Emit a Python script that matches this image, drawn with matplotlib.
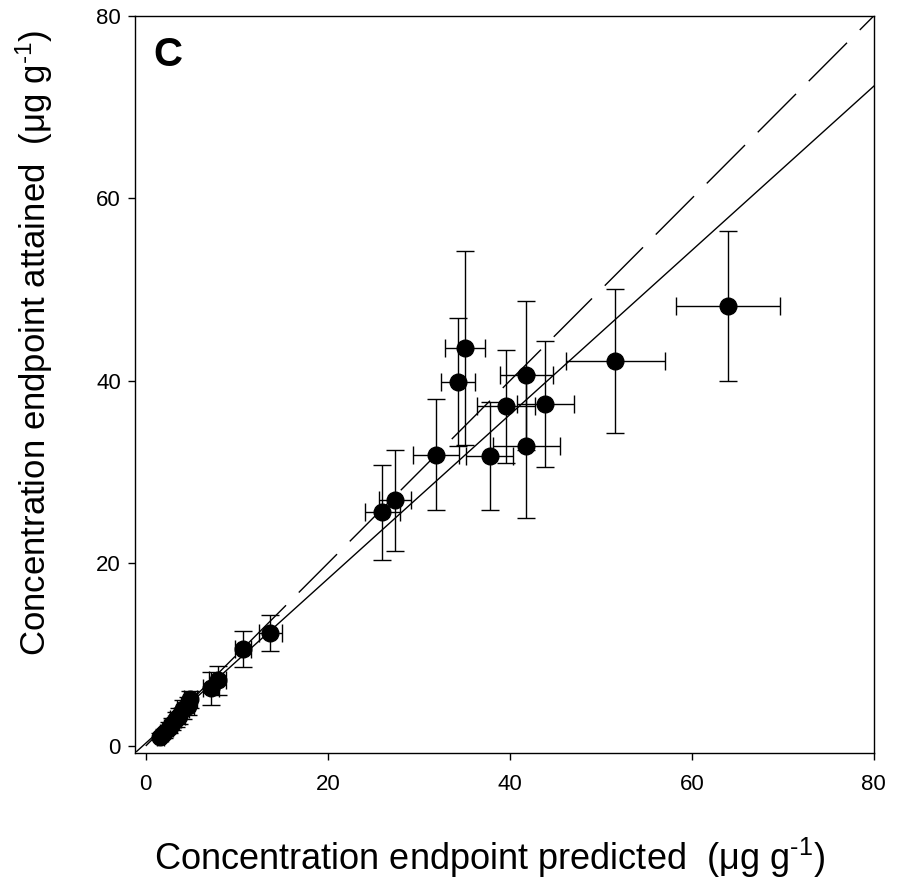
import numpy as np
import matplotlib
matplotlib.use('Agg')
import matplotlib.pyplot as plt

plt.rcParams['font.family'] = ['Liberation Sans', 'DejaVu Sans']
plt.rcParams['mathtext.fontset'] = 'custom'
plt.rcParams['mathtext.rm'] = 'Liberation Sans'
plt.rcParams['mathtext.it'] = 'Liberation Sans:italic'

# predicted endpoint (x), attained endpoint (y) and their errors
predicted = [1.6, 2.0, 2.5, 2.9, 3.3, 3.7, 4.1, 4.6, 4.9, 7.2, 7.9, 10.7, 13.7,
             26.0, 27.4, 31.9, 34.3, 35.1, 37.8, 39.6, 41.8, 41.8, 43.9, 51.6, 64.0]
attained = [1.0, 1.4, 2.0, 2.4, 2.9, 3.3, 4.0, 4.4, 5.1, 6.3, 7.2, 10.6, 12.4,
            25.6, 26.9, 31.9, 39.9, 43.6, 31.8, 37.2, 40.6, 32.9, 37.5, 42.2, 48.2]
pred_err = [0.4, 0.4, 0.5, 0.5, 0.6, 0.6, 0.7, 0.7, 0.7, 0.9, 0.9, 0.9, 1.3,
            1.9, 1.75, 2.5, 1.9, 2.2, 2.6, 3.2, 2.9, 3.7, 3.1, 5.4, 5.7]
att_err = [0.4, 0.5, 0.6, 0.7, 0.8, 0.9, 1.0, 1.0, 0.9, 1.8, 1.6, 2.0, 2.0,
           5.2, 5.5, 6.1, 7.0, 10.6, 5.9, 6.2, 8.2, 7.9, 6.9, 7.9, 8.2]

# regression line and 1:1 line
fit_slope = 0.9
fit_intercept = 0.3

fig = plt.figure(figsize=(8.99, 8.82), dpi=100)
ax = fig.add_axes([0.150, 0.146, 0.822, 0.836])

line_x = np.array([-1.0, 80.0])
ax.plot(line_x, fit_intercept + fit_slope * line_x, color='black', lw=1.0, zorder=1)
ax.plot([0, 80], [0, 80], color='black', lw=1.0, linestyle=(0, (39, 13)), zorder=1)

ax.errorbar(predicted, attained, xerr=pred_err, yerr=att_err, fmt='o',
            color='black', markersize=12, elinewidth=1.0, capsize=6.5,
            capthick=1.0, zorder=3)

ax.set_xlim(-1.2, 80)
ax.set_ylim(-0.8, 80)
ax.set_xticks([0, 20, 40, 60, 80])
ax.set_yticks([0, 20, 40, 60, 80])
ax.tick_params(direction='out', length=5, width=1, labelsize=16)
ax.tick_params(axis='x', pad=10)
ax.tick_params(axis='y', pad=5)
for s in ax.spines.values():
    s.set_linewidth(1.0)

# units with a plain hyphen in the superscript
unit = '(\u03bcg g$^{\\text{-1}}$)'
ax.set_xlabel('Concentration endpoint predicted  ' + unit, fontsize=26)
ax.set_ylabel('Concentration endpoint attained  ' + unit, fontsize=25)
ax.xaxis.set_label_coords(0.480, -0.112)
ax.yaxis.set_label_coords(-0.108, 0.557)

ax.text(0.025, 0.973, 'C', transform=ax.transAxes, fontsize=29,
        fontweight='bold', va='top', ha='left')

fig.savefig('out.png', dpi=100)
